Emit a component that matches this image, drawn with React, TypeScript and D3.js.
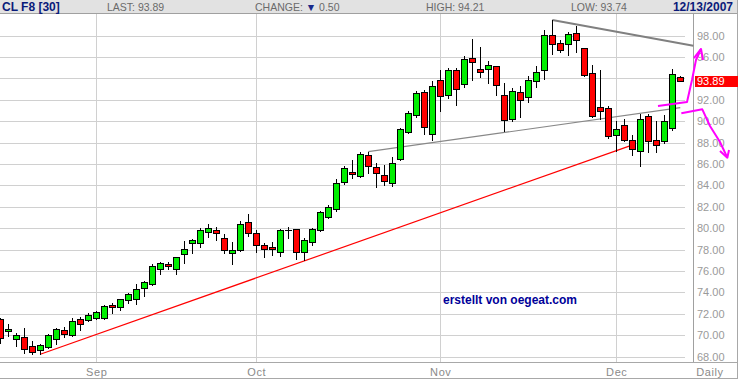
import React from 'react';
import * as d3 from 'd3';

const dates = [
  '2007-08-16','2007-08-17','2007-08-20','2007-08-21','2007-08-22','2007-08-23','2007-08-24','2007-08-27','2007-08-28','2007-08-29','2007-08-30','2007-08-31',
  '2007-09-03','2007-09-04','2007-09-05','2007-09-06','2007-09-07','2007-09-10','2007-09-11','2007-09-12','2007-09-13','2007-09-14','2007-09-17','2007-09-18','2007-09-19','2007-09-20','2007-09-21','2007-09-24','2007-09-25','2007-09-26','2007-09-27','2007-09-28',
  '2007-10-01','2007-10-02','2007-10-03','2007-10-04','2007-10-05','2007-10-08','2007-10-09','2007-10-10','2007-10-11','2007-10-12','2007-10-15','2007-10-16','2007-10-17','2007-10-18','2007-10-19','2007-10-22','2007-10-23','2007-10-24','2007-10-25','2007-10-26','2007-10-29','2007-10-30','2007-10-31',
  '2007-11-01','2007-11-02','2007-11-05','2007-11-06','2007-11-07','2007-11-08','2007-11-09','2007-11-12','2007-11-13','2007-11-14','2007-11-15','2007-11-16','2007-11-19','2007-11-20','2007-11-21','2007-11-22','2007-11-23','2007-11-26','2007-11-27','2007-11-28','2007-11-29','2007-11-30',
  '2007-12-03','2007-12-04','2007-12-05','2007-12-06','2007-12-07','2007-12-10','2007-12-11','2007-12-12','2007-12-13',
];

const opens = [
  71.51,70.39,69.62,69.83,68.96,68.64,68.93,69.62,70.51,69.99,71.51,71.39,
  71.58,71.58,72.79,72.61,73.29,73.36,74.38,74.76,76.16,76.63,76.16,77.56,78.59,78.59,79.67,79.80,79.06,77.65,77.99,80.55,
  79.52,78.40,78.21,77.75,79.85,79.90,77.75,78.68,79.80,81.08,81.77,84.35,85.25,84.88,86.81,85.69,84.94,84.20,86.44,88.96,90.55,92.70,88.78,
  93.82,92.42,94.76,93.45,95.88,94.85,94.85,95.13,92.42,90.18,92.70,92.24,93.73,94.76,98.03,97.28,97.19,98.21,96.81,94.48,91.30,91.21,
  88.68,89.62,88.21,87.19,90.46,88.21,88.12,89.34,94.16,
];
const highs = [
  71.60,71.05,70.18,70.70,69.46,69.15,70.08,70.64,70.77,71.61,71.73,72.05,
  72.26,72.82,72.98,73.41,73.94,74.79,75.09,76.63,76.87,76.81,77.34,78.80,78.99,79.99,80.39,80.11,79.46,78.71,80.70,81.33,
  79.83,78.59,78.68,79.90,80.13,79.95,79.06,79.99,81.60,82.15,84.57,85.81,86.37,87.12,87.15,86.07,85.88,86.65,89.34,90.95,92.82,92.89,93.76,
  94.76,94.94,94.94,96.09,97.65,96.91,95.60,95.13,93.54,93.08,93.26,94.20,95.13,98.52,99.46,97.59,98.31,98.93,96.81,95.22,94.79,91.39,
  89.99,90.18,88.68,90.64,90.64,89.99,90.55,94.85,94.21,
];
const lows = [
  69.24,69.93,69.02,68.36,68.21,68.22,68.83,69.15,69.86,69.90,70.49,71.33,
  71.54,71.49,72.10,72.36,72.98,72.89,73.69,74.66,75.75,76.19,75.75,76.72,77.71,78.27,79.15,78.93,77.65,76.63,77.90,79.30,
  77.75,77.28,77.47,77.40,79.10,77.15,77.03,78.40,79.70,80.95,81.64,84.10,84.66,84.80,85.13,83.82,84.01,83.94,86.40,88.87,90.42,88.78,88.21,
  90.92,92.14,91.54,93.17,93.82,94.13,93.54,92.42,89.11,90.00,90.42,91.77,93.17,93.92,96.25,96.44,96.16,96.44,94.20,90.36,90.23,88.40,
  87.19,88.12,86.81,85.78,87.09,87.09,87.93,89.15,93.74,
];
const closes = [
  69.77,70.58,70.02,68.68,68.40,69.06,69.99,70.55,70.08,71.36,71.05,71.86,
  72.14,72.70,72.61,73.36,73.82,74.29,74.97,76.44,76.75,76.44,77.28,78.03,78.87,79.80,79.99,79.52,77.93,77.93,80.36,79.52,
  78.40,78.03,78.03,79.80,79.85,77.75,78.87,79.90,81.49,81.95,84.20,85.60,85.04,86.91,85.81,85.13,84.38,86.07,89.24,90.74,92.61,89.43,93.26,
  92.33,94.76,92.98,95.79,95.50,94.57,95.22,93.36,90.08,92.80,91.95,93.82,94.57,98.03,97.19,96.63,98.12,97.56,94.29,90.46,90.93,88.59,
  89.24,88.21,87.37,90.18,88.12,87.75,89.99,94.38,93.76,
];

const yTicks = [68, 70, 72, 74, 76, 78, 80, 82, 84, 86, 88, 90, 92, 94, 96, 98];
const monthStarts = ['2007-09-03', '2007-10-01', '2007-11-01', '2007-12-03'];
const monthLabels = ['Sep', 'Oct', 'Nov', 'Dec'];

const symbol = 'CL F8 [30]';
const lastPrice = '93.89';
const change = '0.50';
const highPrice = '94.21';
const lowPrice = '93.74';
const dateLabel = '12/13/2007';
const watermark = 'erstellt von oegeat.com';

// trend lines in (index, price)
const supportLine: [number, number][] = [[5, 68.22], [78.7, 87.7]];
const necklineLine: [number, number][] = [[46, 87.15], [85, 91.26]];
const resistanceLine: [number, number][] = [[69, 99.46], [86.63, 97.06]];
const upArrow: [number, number][] = [[82.21, 91.42], [85.84, 91.79], [86.46, 93.85], [86.96, 95.72], [87.59, 96.75]];
const upArrowHead: [number, number][] = [[86.71, 95.9], [87.59, 96.75], [87.84, 95.72]];
const downArrow: [number, number][] = [[85.13, 90.74], [87.75, 91.11], [88.71, 89.55], [89.96, 88.06], [90.88, 86.59]];
const downArrowHead: [number, number][] = [[89.96, 87.22], [90.88, 86.59], [91.09, 87.31]];

export default function App() {
  const W = 738, H = 379;
  const step = 8;
  const x = d3.scaleBand<string>().domain(dates).range([-3.7, -3.7 + dates.length * step]);
  const xc = (d: string) => (x(d) as number) + x.bandwidth() / 2;
  const xi = d3.scaleLinear().domain([0, dates.length - 1]).range([xc(dates[0]), xc(dates[dates.length - 1])]);
  const y = d3.scaleLinear().domain([68, 98]).range([356.6, 35.6]);
  const line = d3.line<[number, number]>().x(d => xi(d[0])).y(d => y(d[1]));

  const plotTop = 13.5, plotBottom = 362, axisX = 693.5, gridRight = 685;
  const font = "'Liberation Sans', Arial, sans-serif";
  const green = '#00ee00', red = '#ff0000';
  const lastY = Math.round(y(closes[closes.length - 1]));
  const visibleTicks = yTicks.filter(t => Math.abs(y(t) - lastY) > 10);

  return (
    <svg width={W} height={H} style={{ position: 'absolute', left: 0, top: 0, background: '#fff' }} shapeRendering="crispEdges">
      <rect x={0} y={0} width={W} height={H} fill="#fff" />
      {/* header */}
      <rect x={0} y={0} width={W} height={13} fill="#e2e2e2" />
      <line x1={0} x2={W} y1={13.5} y2={13.5} stroke="#a0a0a0" />
      <g fontFamily={font}>
        <text x={2} y={11} fontSize={12} fontWeight="bold" fill="#0a1a7a">{symbol}</text>
        <text x={107} y={10.5} fontSize={10.5} fill="#6a6a6a">{'LAST: ' + lastPrice}</text>
        <text x={255} y={10.5} fontSize={10.5} fill="#6a6a6a">CHANGE: <tspan fill="#1a2a8a">▼</tspan> {change}</text>
        <text x={426} y={10.5} fontSize={10.5} fill="#6a6a6a">{'HIGH: ' + highPrice}</text>
        <text x={571} y={10.5} fontSize={10.5} fill="#6a6a6a">{'LOW: ' + lowPrice}</text>
        <text x={733} y={11} fontSize={12} fontWeight="bold" fill="#0a1a7a" textAnchor="end">{dateLabel}</text>
      </g>

      {/* horizontal grid */}
      {yTicks.map(t => (
        <line key={'h' + t} x1={0} x2={gridRight} y1={Math.round(y(t)) + 0.5} y2={Math.round(y(t)) + 0.5} stroke="#d0d0d0" />
      ))}
      {/* vertical month grid */}
      {monthStarts.map(d => (
        <line key={'v' + d} x1={Math.round(xc(d)) + 0.5} x2={Math.round(xc(d)) + 0.5} y1={plotTop} y2={plotBottom} stroke="#d0d0d0" />
      ))}

      {/* axes frame */}
      <line x1={axisX} x2={axisX} y1={plotTop} y2={plotBottom} stroke="#a0a0a0" />
      <line x1={0} x2={W} y1={362.5} y2={362.5} stroke="#a8a8a8" />
      <line x1={0} x2={W} y1={378.5} y2={378.5} stroke="#a8a8a8" />
      <line x1={737.5} x2={737.5} y1={0} y2={H} stroke="#a8a8a8" />

      {/* y labels */}
      {visibleTicks.map(t => (
        <text key={'yl' + t} x={697} y={y(t) + 4} fontSize={11} fontFamily={font} fill="#9a9a9a">{t.toFixed(2)}</text>
      ))}
      {/* x labels */}
      {monthStarts.map((d, i) => (
        <text key={'xl' + d} x={xc(d) + 0.5} y={376} fontSize={11} fontFamily={font} fill="#8a8a8a" textAnchor="middle" letterSpacing={0.6}>{monthLabels[i]}</text>
      ))}
      <text x={710} y={376} fontSize={11} fontFamily={font} fill="#8a8a8a" textAnchor="middle" letterSpacing={0.6}>Daily</text>

      {/* trend lines */}
      <path d={line(supportLine) || ''} stroke="#ff0000" strokeWidth={1.2} fill="none" shapeRendering="auto" />
      <path d={line(necklineLine) || ''} stroke="#888" strokeWidth={1.2} fill="none" shapeRendering="auto" />
      <path d={line(resistanceLine) || ''} stroke="#808080" strokeWidth={2} fill="none" shapeRendering="auto" />

      {/* candles */}
      {dates.map((d, i) => {
        const cx = Math.round(xc(d));
        const o = opens[i], c = closes[i], h = highs[i], l = lows[i];
        const top = Math.round(y(Math.max(o, c))) + 0.5;
        const bot = Math.round(y(Math.min(o, c))) + 0.5;
        const doji = o === c;
        return (
          <g key={d}>
            <line x1={cx + 0.5} x2={cx + 0.5} y1={Math.round(y(h))} y2={Math.round(y(l)) + 1} stroke="#000" />
            {doji ? (
              <line x1={cx - 3} x2={cx + 4} y1={top} y2={top} stroke="#000" />
            ) : (
              <rect x={cx - 2.5} y={top} width={6} height={Math.max(1, bot - top)} fill={c > o ? green : red} stroke="#000" />
            )}
          </g>
        );
      })}

      {/* last price box */}
      <rect x={695} y={lastY - 5} width={43} height={11} fill="#ff0000" />
      <text x={697} y={lastY + 4} fontSize={11} fontFamily={font} fill="#fff">{lastPrice}</text>

      {/* annotations */}
      <g stroke="#ff00ff" strokeWidth={2} fill="none" shapeRendering="auto" strokeLinejoin="round">
        <path d={line(upArrow) || ''} />
        <path d={line(upArrowHead) || ''} />
        <path d={line(downArrow) || ''} />
        <path d={line(downArrowHead) || ''} />
      </g>

      <text x={443} y={304} fontSize={12} fontWeight="bold" fontFamily={font} fill="#000099">{watermark}</text>
    </svg>
  );
}
